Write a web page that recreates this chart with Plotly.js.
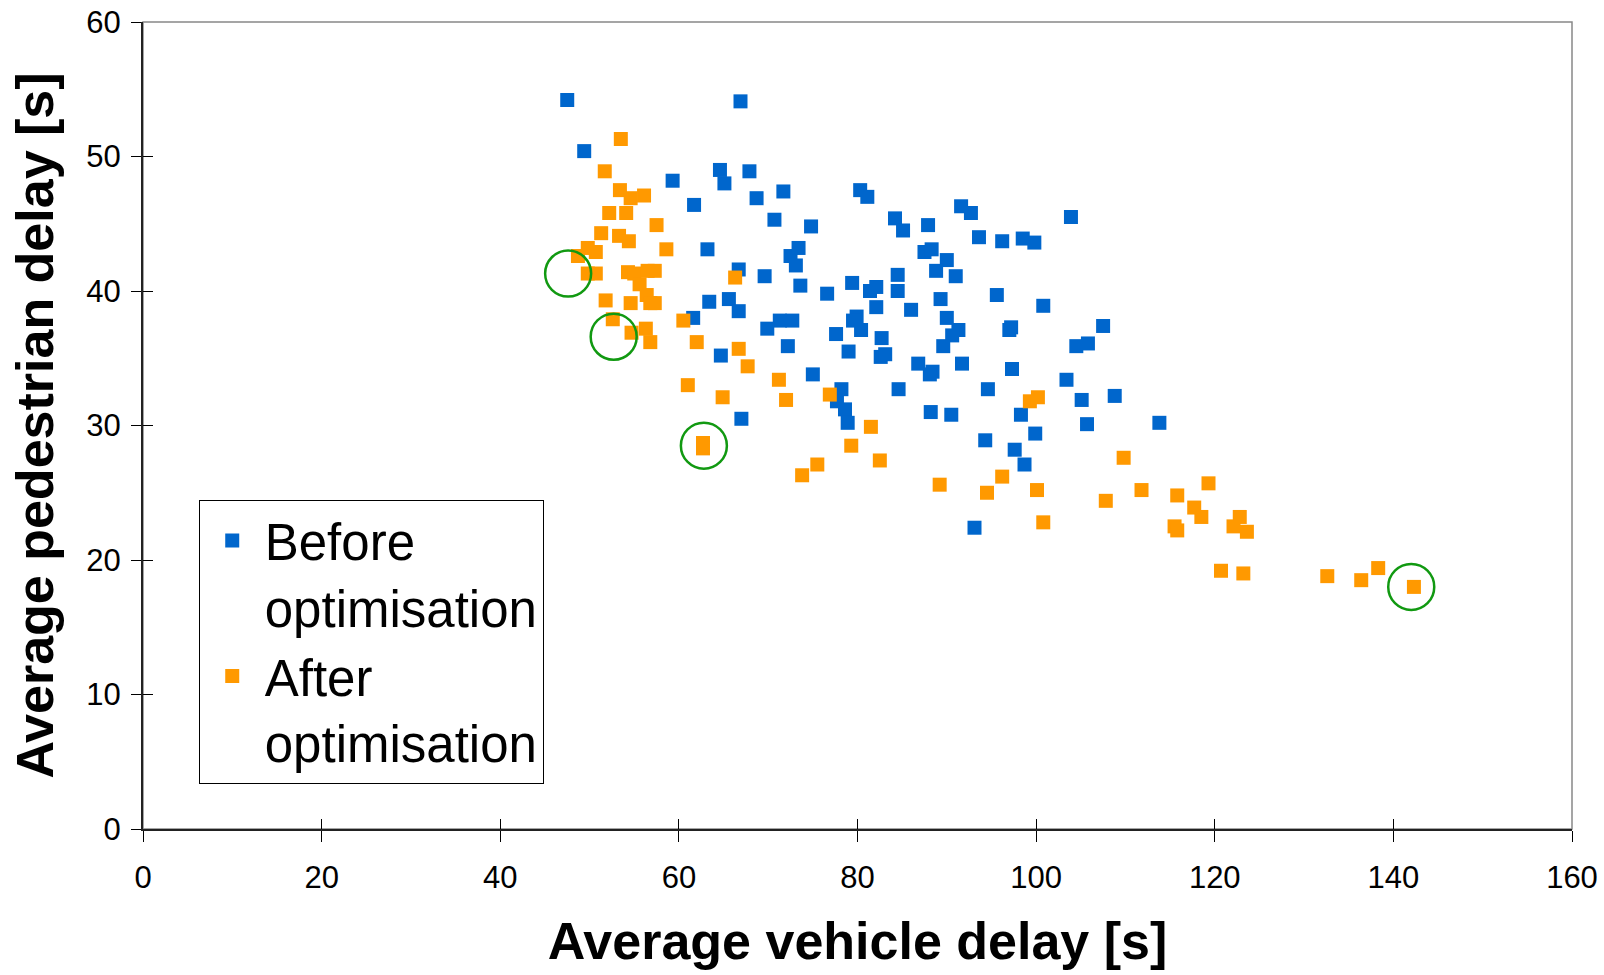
<!DOCTYPE html>
<html>
<head>
<meta charset="utf-8">
<script src="https://cdn.plot.ly/plotly-3.0.1.min.js"></script>
<style>html,body{margin:0;padding:0;background:#fff;}#chart{width:1604px;height:975px;}</style>
</head>
<body>
<div id="chart"></div>
<script>
// Before optimisation (blue)
const beforeX = [47.5,66.9,49.4,59.3,64.6,65.1,67.9,68.7,61.7,71.7,70.7,74.8,80.3,81.1,84.2,85.1,87.9,91.6,92.7,93.6,96.2,98.5,99.8,103.9,
  63.2,72.5,73.4,73.1,66.7,69.6,87.5,88.3,90.0,88.8,91.0,79.4,82.1,81.4,84.5,84.5,76.6,73.6,65.6,63.4,66.7,61.6,82.1,86.0,89.3,95.6,100.8,
  79.9,79.5,71.3,72.7,69.9,80.4,77.6,90.0,91.3,90.6,97.2,97.0,107.5,104.5,105.8,82.7,72.2,79.0,64.7,82.6,83.1,89.6,91.7,86.8,88.4,88.1,75.0,
  97.3,103.4,78.2,84.6,94.6,108.8,105.1,77.7,78.6,88.2,90.5,98.3,78.9,67.0,105.7,113.8,99.9,94.3,97.6,98.7,93.1];
const beforeY = [54.2,54.1,50.4,48.2,49.0,48.0,48.9,46.9,46.4,47.4,45.3,44.8,47.5,47.0,45.4,44.5,44.9,46.3,45.8,44.0,43.7,43.9,43.6,45.5,
  43.1,42.6,43.2,41.9,41.6,41.1,42.9,43.1,42.3,41.5,41.1,40.6,40.3,40.0,41.2,40.0,39.8,40.4,39.4,39.2,38.5,38.0,38.8,38.6,39.4,39.7,38.9,
  38.1,37.8,37.8,37.8,37.2,37.1,36.8,38.0,37.1,36.7,37.3,37.1,37.4,35.9,36.1,36.5,35.9,35.5,35.2,35.1,35.3,35.9,34.6,34.6,34.0,33.8,33.8,
  34.2,33.4,32.7,32.7,32.7,32.2,31.9,31.8,31.2,31.0,30.8,30.8,30.2,30.5,30.1,30.2,29.4,28.9,28.2,27.1,22.4];
// After optimisation (orange)
const afterX = [53.5,51.7,53.4,54.6,56.1,52.2,54.1,57.5,51.3,53.3,54.4,49.8,50.7,48.7,58.6,49.8,50.7,54.3,55.0,56.5,57.3,55.6,56.4,56.8,
  54.6,51.8,57.3,66.3,52.6,60.5,54.7,56.3,56.8,62.0,66.7,67.7,61.0,71.2,76.9,64.9,72.0,81.5,99.3,100.2,62.7,62.7,79.3,82.5,109.8,75.5,73.8,
  96.2,89.2,100.1,94.5,111.8,119.3,115.8,107.8,117.7,118.5,122.8,100.8,115.5,115.8,122.1,123.6,120.7,123.2,132.6,136.4,138.3,142.3];
const afterY = [51.3,48.9,47.5,46.9,47.1,45.8,45.8,44.9,44.3,44.1,43.7,43.2,42.9,42.6,43.1,41.3,41.3,41.4,41.3,41.5,41.5,40.5,39.7,39.1,
  39.1,39.3,39.1,41.0,37.9,37.8,36.9,37.2,36.2,36.2,35.7,34.4,33.0,33.4,32.3,32.1,31.9,29.9,31.8,32.1,28.7,28.3,28.5,27.4,27.6,27.1,26.3,
  26.2,25.6,25.2,25.0,25.2,25.7,24.8,24.4,23.9,23.2,23.2,22.8,22.5,22.2,22.5,22.1,19.2,19.0,18.8,18.5,19.4,18.0];
// Highlighted solutions (green circles)
const highlightX = [47.6, 52.7, 62.8, 142.0];
const highlightY = [41.3, 36.6, 28.5, 18.0];

const FONT = 'Liberation Sans, Arial, Helvetica, sans-serif';

const traces = [
  {type:'scatter', mode:'markers', x:beforeX, y:beforeY, name:'Before<br>optimisation',
   marker:{symbol:'square', size:14, color:'#0066CC'}},
  {type:'scatter', mode:'markers', x:afterX, y:afterY, name:'After<br>optimisation',
   marker:{symbol:'square', size:14, color:'#FF9900'}},
  {type:'scatter', mode:'markers', x:highlightX, y:highlightY, showlegend:false, xaxis:'x2', yaxis:'y2',
   marker:{symbol:'circle-open', size:46, color:'#119911', line:{width:2.5, color:'#119911'}}}
];

const layout = {
  width:1604, height:975,
  margin:{l:143, r:32, t:22, b:146},
  paper_bgcolor:'#fff', plot_bgcolor:'#fff',
  font:{family:FONT, color:'#000'},
  showlegend:true,
  xaxis:{range:[0,160], dtick:20, tick0:0, showgrid:false, zeroline:false,
    showline:true, linecolor:'#222', linewidth:2, ticks:'outside', ticklen:11, tickwidth:1, tickcolor:'#000',
    tickfont:{size:31, family:FONT}, ticklabelstandoff:9,
    title:{text:'Average vehicle delay [s]', font:{size:52, family:FONT, weight:'bold'}, standoff:28}},
  yaxis:{range:[0,60], dtick:10, tick0:0, showgrid:false, zeroline:false,
    showline:true, linecolor:'#222', linewidth:2, ticks:'outside', ticklen:10, tickwidth:1, tickcolor:'#000',
    tickfont:{size:31, family:FONT}, ticklabelstandoff:4,
    title:{text:'Average pedestrian delay [s]', font:{size:52, family:FONT, weight:'bold'}, standoff:16}},
  xaxis2:{overlaying:'x', range:[0,160], dtick:20, tick0:0, showgrid:false, zeroline:false, showline:false,
    ticks:'inside', ticklen:10, tickcolor:'#000', showticklabels:false, side:'bottom'},
  yaxis2:{overlaying:'y', range:[0,60], dtick:10, tick0:0, showgrid:false, zeroline:false, showline:false,
    ticks:'inside', ticklen:10, tickcolor:'#000', showticklabels:false, side:'left'},
  legend:{x:0.039, y:0.408, xanchor:'left', yanchor:'top', bgcolor:'#fff', bordercolor:'#000', borderwidth:1,
    font:{size:51, family:FONT, color:'#000'}, valign:'top', itemwidth:55, tracegroupgap:0},
  shapes:[{type:'rect', xref:'paper', yref:'paper', x0:0, x1:1, y0:0, y1:1, line:{color:'#888', width:1.5}, layer:'below'}]
};

Plotly.newPlot('chart', traces, layout, {displayModeBar:false, staticPlot:true});
</script>
</body>
</html>
